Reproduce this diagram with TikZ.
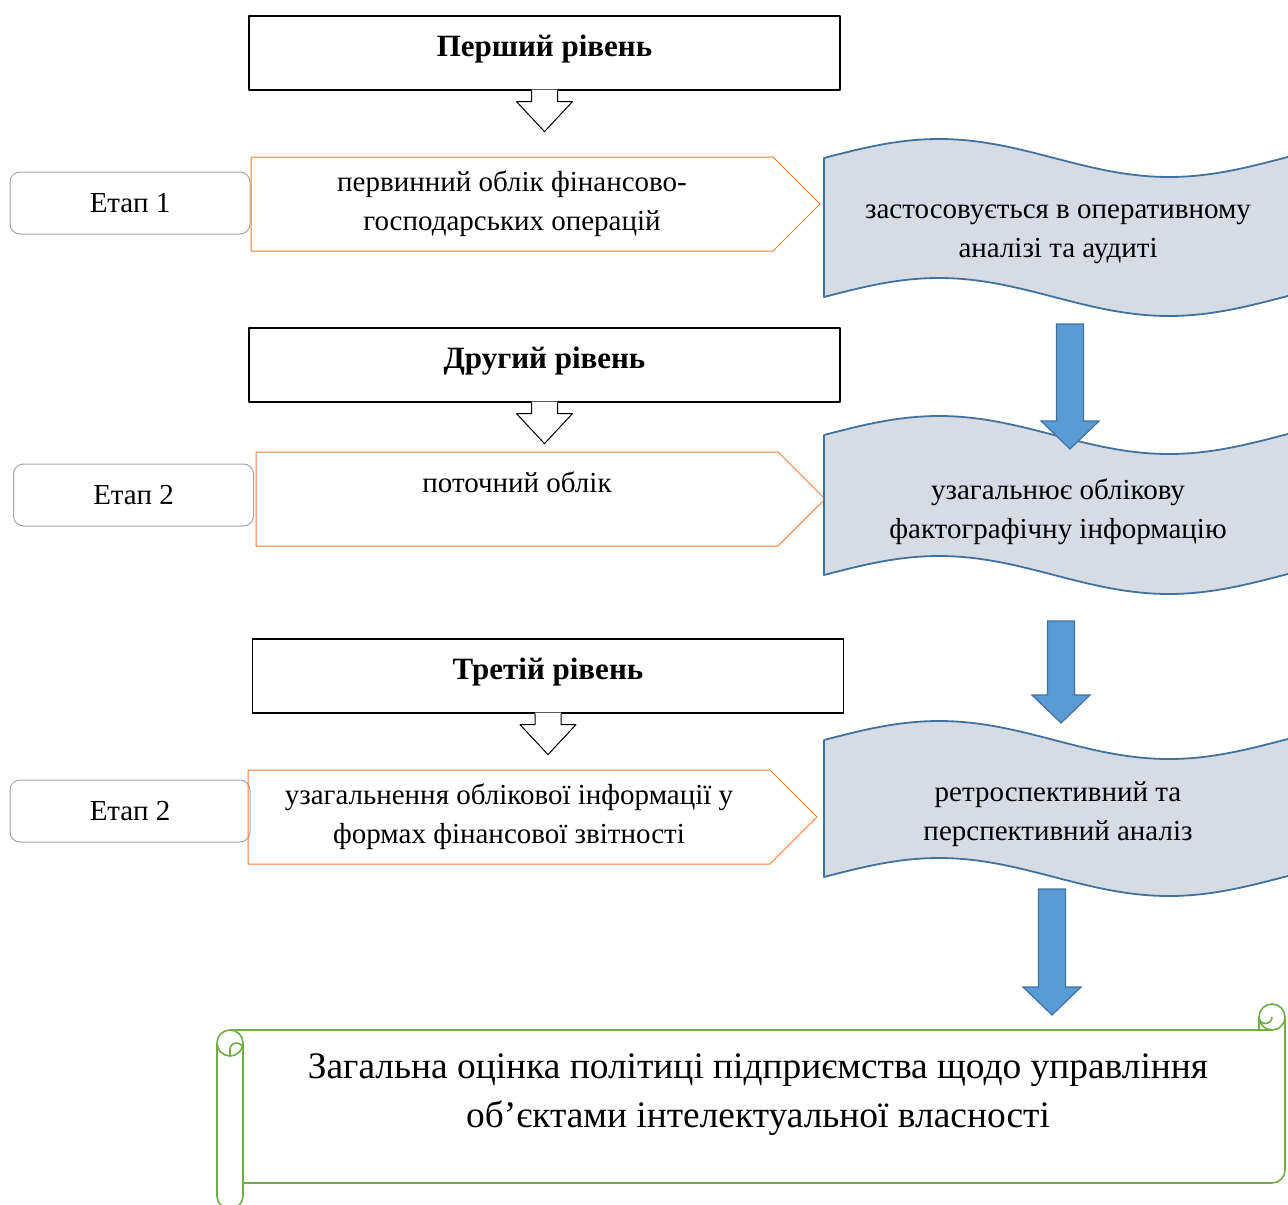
\documentclass[tikz,border=0pt]{standalone}
\usepackage{fontspec}
\setmainfont{Liberation Serif}
\usetikzlibrary{shapes.symbols}

\definecolor{orangeline}{RGB}{237,125,49}
\definecolor{docfill}{RGB}{214,220,229}
\definecolor{docline}{RGB}{65,113,156}
\definecolor{arrowfill}{RGB}{91,155,213}
\definecolor{scrollgreen}{RGB}{112,173,71}
\definecolor{stagegray}{RGB}{165,165,165}

\begin{document}
\begin{tikzpicture}[
	x=0.5pt, y=-0.5pt,
	line join=round,
	font=\fontsize{14.5}{19.5}\selectfont,
	level/.style={draw=black, line width=0.6pt, fill=white, minimum width=295.5pt, minimum height=37pt,
		font=\fontsize{15.5}{19.5}\selectfont\bfseries, text height=10.3pt, text depth=7pt},
	stage/.style={draw=stagegray, line width=0.5pt, rounded corners=5pt, minimum width=120pt, minimum height=31pt},
	account/.style={signal, signal to=east, signal pointer angle=90, draw=orangeline, line width=0.5pt,
		minimum width=284.5pt, minimum height=47pt, align=center},
	wave/.style={fill=docfill, draw=docline, line width=0.9pt},
	wavetext/.style={align=center},
	hollow/.style={draw=black, line width=0.5pt},
	bluearrow/.style={fill=arrowfill, draw=docline, line width=0.6pt, line join=miter},
	scroll/.style={draw=scrollgreen, line width=0.8pt}
	]
	
	% Page frame
	\useasboundingbox (0,0) rectangle (1288,1204);
	
	% Levels
	\node[level] (lvl1) at (544.5,53) {Перший рівень};
	\node[level] (lvl2) at (544.5,365) {Другий рівень};
	\node[level] (lvl3) at (548,676) {Третій рівень};
	
	% Hollow arrows under the levels
	\foreach \l in {lvl1,lvl2,lvl3}
	{
		\fill[white] ([xshift=-6.5pt,yshift=0.5pt]\l.south) -- ++(0,-6pt) -- ++(-7.5pt,0) -- ++(14pt,-15pt)
			-- ++(14pt,15pt) -- ++(-7.5pt,0) -- ++(0,6pt) -- cycle;
		\draw[hollow] ([xshift=-6.5pt]\l.south) -- ++(0,-5.5pt) -- ++(-7.5pt,0) -- ++(14pt,-15pt)
			-- ++(14pt,15pt) -- ++(-7.5pt,0) -- ++(0,5.5pt);
	}
	
	% Stages
	\node[stage] (st1) at (130,203) {Етап 1};
	\node[stage] (st2) at (133.5,495) {Етап 2};
	\node[stage] (st3) at (130,811) {Етап 2};
	
	% Accounting steps
	\node[account] (acc1) at (512,204) {первинний облік фінансово-\\господарських операцій};
	\node[account, text height=10pt, text depth=17pt] (acc2) at (517,499) {поточний облік};
	\node[account] (acc3) at (509,817) {узагальнення облікової інформації у\\формах фінансової звітності};
	
	% Waves
	\foreach \t/\h in {158/139, 435/140, 740/137}
	{
		\draw[wave] plot[domain=824:1300, samples=60, smooth] (\x,{\t-19*sin((\x-824)/460*360)})
			-- plot[domain=1300:824, samples=60, smooth] (\x,{\t+\h-19*sin((\x-824)/460*360)}) -- cycle;
	}
	\node[wavetext] (doc1) at (1058,234) {застосовується в оперативному\\аналізі та аудиті};
	\node[wavetext] (doc2) at (1058,512) {узагальнює облікову\\фактографічну інформацію};
	\node[wavetext] (doc3) at (1058,814) {ретроспективний та\\перспективний аналіз};
	
	% Blue arrows
	\coordinate (s1) at (1070,324); \coordinate (e1) at (1070,449);
	\coordinate (s2) at (1061,621); \coordinate (e2) at (1061,723);
	\coordinate (s3) at (1052,889); \coordinate (e3) at (1052,1015);
	\foreach \i in {1,2,3}
	{
		\draw[bluearrow] ([xshift=-6.75pt]s\i) -- ([xshift=6.75pt]s\i) -- ([xshift=6.75pt,yshift=14pt]e\i)
			-- ([xshift=14.5pt,yshift=14pt]e\i) -- (e\i) -- ([xshift=-14.5pt,yshift=14pt]e\i)
			-- ([xshift=-6.75pt,yshift=14pt]e\i) -- cycle;
	}
	
	% Scroll
	\draw[scroll] (230,1030) -- (1272,1030);
	\draw[scroll] (230,1043) circle[radius=13];
	\draw[scroll] (217,1043) -- (217,1196) arc[start angle=180, end angle=0, radius=13] -- (243,1043);
	\draw[scroll] (230,1056) -- (230,1049.5) arc[start angle=180, end angle=360, radius=6.5];
	\draw[scroll] (243,1183) -- (1272,1183) arc[start angle=90, end angle=0, radius=13] -- (1285,1017);
	\draw[scroll] (1272,1017) circle[radius=13];
	\draw[scroll] (1259,1030) -- (1259,1017) arc[start angle=180, end angle=0, radius=6.5];
	\node[align=center, font=\fontsize{18.7}{24.5}\selectfont] (sum) at (758,1095)
		{Загальна оцінка політиці підприємства щодо управління\\об’єктами інтелектуальної власності};
	
\end{tikzpicture}
\end{document}
